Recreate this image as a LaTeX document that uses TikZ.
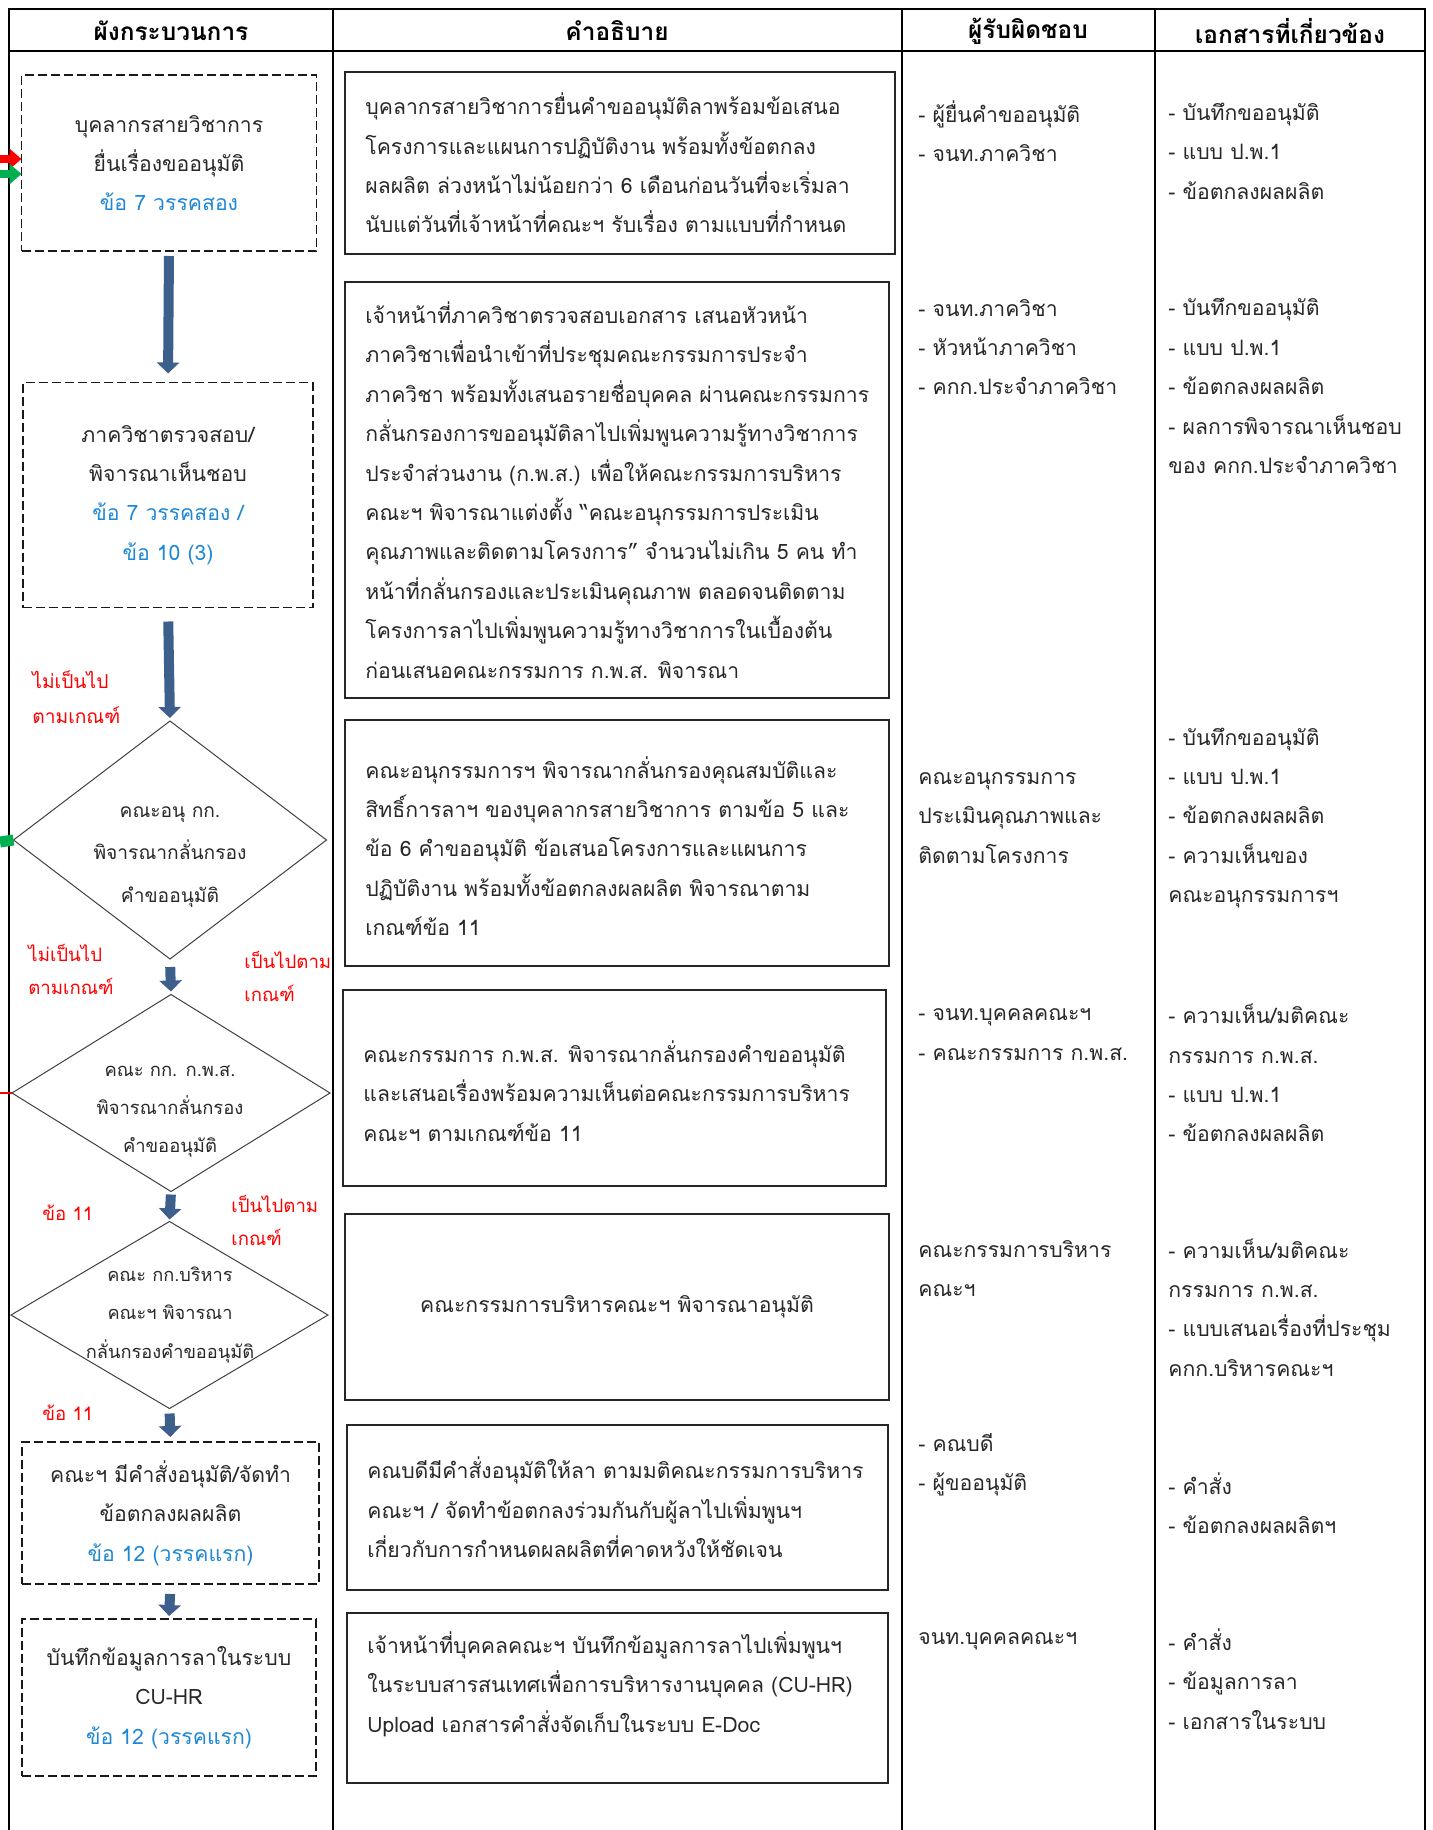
\documentclass[tikz,border=0pt]{standalone}
\usepackage{fontspec}
\newfontfamily\thai[Script=Thai]{Loma}
\usetikzlibrary{arrows.meta,shapes.geometric}
\definecolor{flowblue}{RGB}{60,95,140}
\definecolor{refblue}{RGB}{30,136,214}
\definecolor{txtgray}{RGB}{40,40,40}
\definecolor{fbgreen}{RGB}{0,176,80}
\newcommand\clause[1]{\textcolor{refblue}{#1}}
\tikzset{
  grid/.style={line width=1.4pt,black},
  head/.style={font=\thai\bfseries\fontsize{12.2}{15}\selectfont,text=black},
  flowbox/.style={draw=black!90,line width=0.8pt,dash pattern=on 4.5pt off 2pt,
    align=center,inner sep=0pt,outer sep=0pt},
  decision/.style={draw=black!75,line width=0.5pt,diamond,inner sep=0pt,outer sep=0pt},
  descbox/.style={draw=black!85,line width=1.1pt,inner sep=0pt,outer sep=0pt,
    minimum width=272pt},
  plain/.style={align=left,inner sep=0pt,anchor=west},
  note/.style={align=left,inner sep=0pt,anchor=west,text=red,
    font=\thai\fontsize{9.3}{16.5}\selectfont},
  flow/.style={draw=flowblue,line width=5pt,-{Triangle[length=5.5pt,width=11pt]}},
}
\begin{document}
\begin{tikzpicture}[x=0.5pt,y=-0.5pt,
    every node/.style={font=\thai\fontsize{10.6}{19.7}\selectfont,text=txtgray}]
  \useasboundingbox (0,0) rectangle (1432,1830);
  % table
  \draw[grid] (9,1830) -- (9,9) -- (1425,9) -- (1425,1830);
  \draw[grid] (9,51) -- (1425,51);
  \foreach \x in {333,902,1155}
    \draw[grid] (\x,9) -- (\x,1830);
  \draw
    (171,31) node[head] (h1){ผังกระบวนการ}
    (617,31) node[head] (h2){คำอธิบาย}
    (1028,31) node[head] (h3){ผู้รับผิดชอบ}
    (1290,31) node[head] (h4){เอกสารที่เกี่ยวข้อง};
  % flow column
  \node[flowbox,minimum width=147.5pt,minimum height=88pt] (f1) at (169,163)
    {บุคลากรสายวิชาการ\\ยื่นเรื่องขออนุมัติ\\\clause{ข้อ 7 วรรคสอง}};
  \node[flowbox,minimum width=145pt,minimum height=112.5pt] (f2) at (168,495)
    {ภาควิชาตรวจสอบ/\\พิจารณาเห็นชอบ\\\clause{ข้อ 7 วรรคสอง /}\\\clause{ข้อ 10 (3)}};
  \node[decision,minimum width=156.5pt,minimum height=119pt] (f3) at (170,840) {};
  \node[decision,minimum width=159pt,minimum height=98.5pt] (f4) at (171,1093) {};
  \node[decision,minimum width=158.5pt,minimum height=93.5pt] (f5) at (169.5,1315) {};
  \node[flowbox,minimum width=148.5pt,minimum height=71pt] (f6) at (170.5,1513)
    {คณะฯ มีคำสั่งอนุมัติ/จัดทำ\\ข้อตกลงผลผลิต\\\clause{ข้อ 12 (วรรคแรก)}};
  \node[flowbox,minimum width=147pt,minimum height=78.5pt] (f7) at (169,1697.5)
    {บันทึกข้อมูลการลาในระบบ\\CU-HR\\\clause{ข้อ 12 (วรรคแรก)}};
  \node[align=center,font=\thai\fontsize{9.6}{21.3}\selectfont] (f3t) at (170,857)
    {คณะอนุ กก.\\พิจารณากลั่นกรอง\\คำขออนุมัติ};
  \node[align=center,font=\thai\fontsize{9.2}{19}\selectfont] (f4t) at (170,1111)
    {คณะ กก. ก.พ.ส.\\พิจารณากลั่นกรอง\\คำขออนุมัติ};
  \node[align=center,font=\thai\fontsize{9.1}{19.2}\selectfont] (f5t) at (170,1315)
    {คณะ กก.บริหาร\\คณะฯ พิจารณา\\กลั่นกรองคำขออนุมัติ};
  \draw
    (32,697) node[note,font=\thai\fontsize{9.6}{17.5}\selectfont] (n1){ไม่เป็นไป\\ตามเกณฑ์}
    (28,969) node[note] (n2){ไม่เป็นไป\\ตามเกณฑ์}
    (244,976) node[note] (n3){เป็นไปตาม\\เกณฑ์}
    (42,1213) node[note] (n4){ข้อ 11}
    (231,1220) node[note] (n5){เป็นไปตาม\\เกณฑ์}
    (42,1413) node[note] (n6){ข้อ 11};
  \begin{scope}[flow]
    \draw[shorten <=2.5pt,shorten >=4.5pt] (f1.south) -- (f2.north);
    \draw[shorten <=7pt,shorten >=1.5pt] (f2.south) -- (f3.north);
    \draw[shorten <=4pt,shorten >=1.5pt] (f3.south) -- (f4.north);
    \draw[shorten <=1.5pt,shorten >=1pt] (f4.south) -- (f5.north);
    \draw[shorten <=2.5pt,shorten >=2.5pt] (f5.south) -- (f6.north);
    \draw[shorten <=5pt,shorten >=1.5pt] (f6.south) -- (f7.north);
  \end{scope}
  % loops coming back from the left
  \coordinate (in1) at (0,159);
  \coordinate (in2) at (0,174);
  \coordinate (out1) at (0,842);
  \coordinate (out2) at (0,1093);
  \begin{scope}[line width=4pt]
    \draw[red,-{Triangle[length=6pt,width=10pt]}] (in1) -- (f1.west |- in1);
    \draw[fbgreen,-{Triangle[length=6pt,width=10pt]}] (in2) -- (f1.west |- in2);
    \draw[fbgreen,line width=5.5pt] (f3.west) -- (out1);
    \draw[red,line width=1pt] (f4.west) -- (out2);
  \end{scope}
  % description column
  \node[descbox,minimum width=275pt,minimum height=91pt] (t1) at (620,163) {};
  \node[descbox,minimum height=208pt] (t2) at (617,490) {};
  \node[descbox,minimum height=123pt] (t3) at (617,843) {};
  \node[descbox,minimum width=271.5pt,minimum height=98pt] (t4) at (614.5,1088) {};
  \node[descbox,minimum height=93pt] (t5) at (617,1307) {};
  \node[descbox,minimum width=270.5pt,minimum height=82.5pt] (t6) at (617.5,1507.5) {};
  \node[descbox,minimum width=270.5pt,minimum height=85pt] (t7) at (617.5,1698) {};
  \node[plain] (t1x) at ([xshift=10pt]t1.west)
    {บุคลากรสายวิชาการยื่นคำขออนุมัติลาพร้อมข้อเสนอ\\
     โครงการและแผนการปฏิบัติงาน พร้อมทั้งข้อตกลง\\
     ผลผลิต ล่วงหน้าไม่น้อยกว่า 6 เดือนก่อนวันที่จะเริ่มลา\\
     นับแต่วันที่เจ้าหน้าที่คณะฯ รับเรื่อง ตามแบบที่กำหนด};
  \node[plain] (t2x) at ([xshift=10pt]t2.west)
    {เจ้าหน้าที่ภาควิชาตรวจสอบเอกสาร เสนอหัวหน้า\\
     ภาควิชาเพื่อนำเข้าที่ประชุมคณะกรรมการประจำ\\
     ภาควิชา พร้อมทั้งเสนอรายชื่อบุคคล ผ่านคณะกรรมการ\\
     กลั่นกรองการขออนุมัติลาไปเพิ่มพูนความรู้ทางวิชาการ\\
     ประจำส่วนงาน (ก.พ.ส.) เพื่อให้คณะกรรมการบริหาร\\
     คณะฯ พิจารณาแต่งตั้ง “คณะอนุกรรมการประเมิน\\
     คุณภาพและติดตามโครงการ” จำนวนไม่เกิน 5 คน ทำ\\
     หน้าที่กลั่นกรองและประเมินคุณภาพ ตลอดจนติดตาม\\
     โครงการลาไปเพิ่มพูนความรู้ทางวิชาการในเบื้องต้น\\
     ก่อนเสนอคณะกรรมการ ก.พ.ส. พิจารณา};
  \node[plain] (t3x) at ([xshift=10pt,yshift=-1.5pt]t3.west)
    {คณะอนุกรรมการฯ พิจารณากลั่นกรองคุณสมบัติและ\\
     สิทธิ์การลาฯ ของบุคลากรสายวิชาการ ตามข้อ 5 และ\\
     ข้อ 6 คำขออนุมัติ ข้อเสนอโครงการและแผนการ\\
     ปฏิบัติงาน พร้อมทั้งข้อตกลงผลผลิต พิจารณาตาม\\
     เกณฑ์ข้อ 11};
  \node[plain] (t4x) at ([xshift=10pt,yshift=-1.5pt]t4.west)
    {คณะกรรมการ ก.พ.ส. พิจารณากลั่นกรองคำขออนุมัติ\\
     และเสนอเรื่องพร้อมความเห็นต่อคณะกรรมการบริหาร\\
     คณะฯ ตามเกณฑ์ข้อ 11};
  \node (t5x) at (t5) {คณะกรรมการบริหารคณะฯ พิจารณาอนุมัติ};
  \node[plain] (t6x) at ([xshift=10pt]t6.west)
    {คณบดีมีคำสั่งอนุมัติให้ลา ตามมติคณะกรรมการบริหาร\\
     คณะฯ / จัดทำข้อตกลงร่วมกันกับผู้ลาไปเพิ่มพูนฯ\\
     เกี่ยวกับการกำหนดผลผลิตที่คาดหวังให้ชัดเจน};
  \node[plain] (t7x) at ([xshift=10pt,yshift=7pt]t7.west)
    {เจ้าหน้าที่บุคคลคณะฯ บันทึกข้อมูลการลาไปเพิ่มพูนฯ\\
     ในระบบสารสนเทศเพื่อการบริหารงานบุคคล (CU-HR)\\
     Upload เอกสารคำสั่งจัดเก็บในระบบ E-Doc};
  % responsible column
  \draw
    (918,131) node[plain] (r1){- ผู้ยื่นคำขออนุมัติ\\- จนท.ภาควิชา}
    (918,347) node[plain] (r2){- จนท.ภาควิชา\\- หัวหน้าภาควิชา\\- คกก.ประจำภาควิชา}
    (918,818) node[plain] (r3){คณะอนุกรรมการ\\ประเมินคุณภาพและ\\ติดตามโครงการ}
    (918,1034.5) node[plain] (r4){- จนท.บุคคลคณะฯ\\- คณะกรรมการ ก.พ.ส.}
    (918,1268.5) node[plain] (r5){คณะกรรมการบริหาร\\คณะฯ}
    (918,1465) node[plain] (r6){- คณบดี\\- ผู้ขออนุมัติ}
    (918,1641) node[plain] (r7){จนท.บุคคลคณะฯ};
  % documents column
  \draw
    (1168,151) node[plain] (e1){- บันทึกขออนุมัติ\\- แบบ ป.พ.1\\- ข้อตกลงผลผลิต}
    (1168,386) node[plain] (e2){- บันทึกขออนุมัติ\\- แบบ ป.พ.1\\- ข้อตกลงผลผลิต\\- ผลการพิจารณาเห็นชอบ\\ของ คกก.ประจำภาควิชา}
    (1168,818) node[plain] (e3){- บันทึกขออนุมัติ\\- แบบ ป.พ.1\\- ข้อตกลงผลผลิต\\- ความเห็นของ\\คณะอนุกรรมการฯ}
    (1168,1073) node[plain] (e4){- ความเห็น/มติคณะ\\กรรมการ ก.พ.ส.\\- แบบ ป.พ.1\\- ข้อตกลงผลผลิต}
    (1168,1307.5) node[plain] (e5){- ความเห็น/มติคณะ\\กรรมการ ก.พ.ส.\\- แบบเสนอเรื่องที่ประชุม\\คกก.บริหารคณะฯ}
    (1168,1503) node[plain] (e6){- คำสั่ง\\- ข้อตกลงผลผลิตฯ}
    (1168,1679) node[plain] (e7){- คำสั่ง\\- ข้อมูลการลา\\- เอกสารในระบบ};
\end{tikzpicture}
\end{document}
